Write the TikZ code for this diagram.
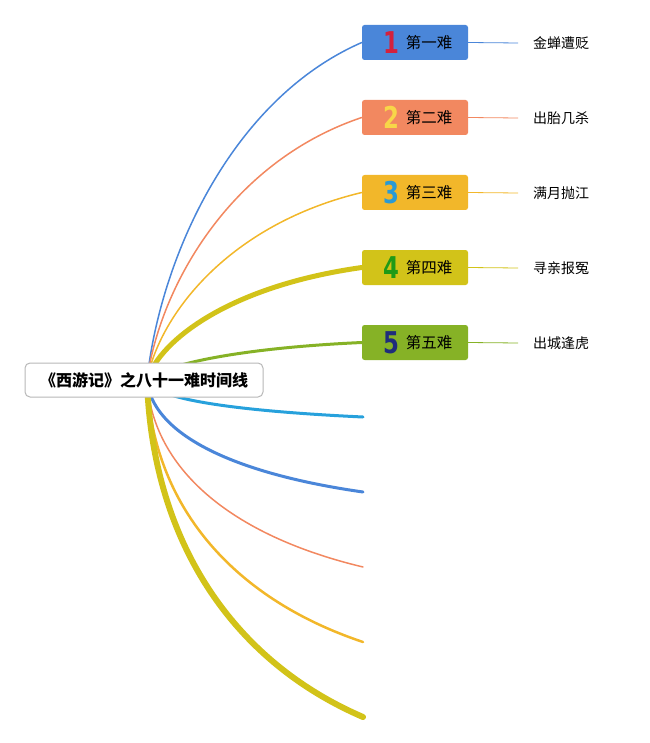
\documentclass[tikz,border=0pt]{standalone}
\usepackage{fontspec}
\setmainfont{Noto Sans CJK SC}
\newfontfamily\numfont{DejaVu Sans}[BoldFont={DejaVu Sans Bold}]
\definecolor{cblue}{HTML}{4A86D9}
\definecolor{csalmon}{HTML}{F28860}
\definecolor{cyell}{HTML}{F2B72A}
\definecolor{colive}{HTML}{D2C319}
\definecolor{cgreen}{HTML}{86B226}
\definecolor{ccyan}{HTML}{27A1DC}
\definecolor{nred}{HTML}{D4213C}
\definecolor{nyell}{HTML}{F8D648}
\definecolor{nblue}{HTML}{2A9AD4}
\definecolor{ngreen}{HTML}{1F9A16}
\definecolor{nnavy}{HTML}{1F2D7B}
\tikzset{
  stagebox/.style={rectangle, rounded corners=2.5pt, minimum width=106pt, minimum height=35pt, inner sep=0pt},
  numtxt/.style={inner sep=0pt, font=\numfont\bfseries\fontsize{30}{30}\selectfont, xscale=0.76},
  stagetxt/.style={inner sep=0pt, font=\fontsize{15.5}{17}\selectfont, text=black},
  leaftxt/.style={inner sep=0pt, anchor=west, font=\fontsize{14}{16}\selectfont, text=black},
  branch/.style={line cap=round},
  leafline/.style={line width=0.8pt}
}
\begin{document}
\begin{tikzpicture}[x=1pt,y=-1pt]
\useasboundingbox (0,0) rectangle (649,743);
\coordinate (o) at (147,380);
% stage boxes
\node[stagebox, fill=cblue]   (b1) at (415,42.5) {};
\node[stagebox, fill=csalmon] (b2) at (415,117.5) {};
\node[stagebox, fill=cyell]   (b3) at (415,192.5) {};
\node[stagebox, fill=colive]  (b4) at (415,267.5) {};
\node[stagebox, fill=cgreen]  (b5) at (415,342.5) {};
% numbers
\node[numtxt, text=nred]   (n1) at (391,42.5) {1};
\node[numtxt, text=nyell]  (n2) at (391,117.5) {2};
\node[numtxt, text=nblue]  (n3) at (391,192.5) {3};
\node[numtxt, text=ngreen] (n4) at (391,267.5) {4};
\node[numtxt, text=nnavy]  (n5) at (391,342.5) {5};
% stage labels
\node[stagetxt] (t1) at (429,43) {第一难};
\node[stagetxt] (t2) at (429,118) {第二难};
\node[stagetxt] (t3) at (429,193) {第三难};
\node[stagetxt] (t4) at (429,268) {第四难};
\node[stagetxt] (t5) at (429,343) {第五难};
% leaves
\node[leaftxt] (l1) at (533,43) {金蝉遭贬};
\node[leaftxt] (l2) at (533,118) {出胎几杀};
\node[leaftxt] (l3) at (533,193) {满月抛江};
\node[leaftxt] (l4) at (533,268) {寻亲报冤};
\node[leaftxt] (l5) at (533,343) {出城逢虎};
\draw[leafline, draw=cblue]   (b1.east) -- ([xshift=-15pt]l1.west);
\draw[leafline, draw=csalmon] (b2.east) -- ([xshift=-15pt]l2.west);
\draw[leafline, draw=cyell]   (b3.east) -- ([xshift=-15pt]l3.west);
\draw[leafline, draw=colive]  (b4.east) -- ([xshift=-15pt]l4.west);
\draw[leafline, draw=cgreen]  (b5.east) -- ([xshift=-15pt]l5.west);
% free ends of lower branches
\coordinate (e6) at (363,417);
\coordinate (e7) at (363,492);
\coordinate (e8) at (363,567);
\coordinate (e9) at (363,642);
\coordinate (e10) at (363,717);
% upper branches
\draw[branch, draw=cblue, line width=1.5pt] (o) .. controls (160,260) and (230,100) .. (b1.west);
\draw[branch, draw=csalmon, line width=1.5pt] (o) .. controls (160,286.6) and (230,161.7) .. (b2.west);
\draw[branch, draw=cyell, line width=1.5pt] (o) .. controls (160,313.3) and (230,224) .. (b3.west);
\draw[branch, draw=colive, line width=5pt] (o) .. controls (160,340) and (230,286) .. (b4.west);
\draw[branch, draw=cgreen, line width=3pt] (o) .. controls (160,366.5) and (230,348.5) .. (b5.west);
% lower branches
\draw[branch, draw=ccyan, line width=3pt] (o) .. controls (152,398.5) and (230,410.7) .. (e6);
\draw[branch, draw=cblue, line width=3pt] (o) .. controls (152,433) and (230,473) .. (e7);
\draw[branch, draw=csalmon, line width=1.5pt] (o) .. controls (152,468) and (230,535.2) .. (e8);
\draw[branch, draw=cyell, line width=2.5pt] (o) .. controls (152,503) and (230,597.5) .. (e9);
\draw[branch, draw=colive, line width=6pt] (o) .. controls (152,538) and (230,659.7) .. (e10);
% root
\node[rectangle, rounded corners=5pt, draw=black!28, line width=1pt, fill=white, minimum width=238pt, minimum height=34pt, font=\bfseries\fontsize{16}{18}\selectfont] (root) at (144,380) {《西游记》之八十一难时间线};
\end{tikzpicture}
\end{document}
